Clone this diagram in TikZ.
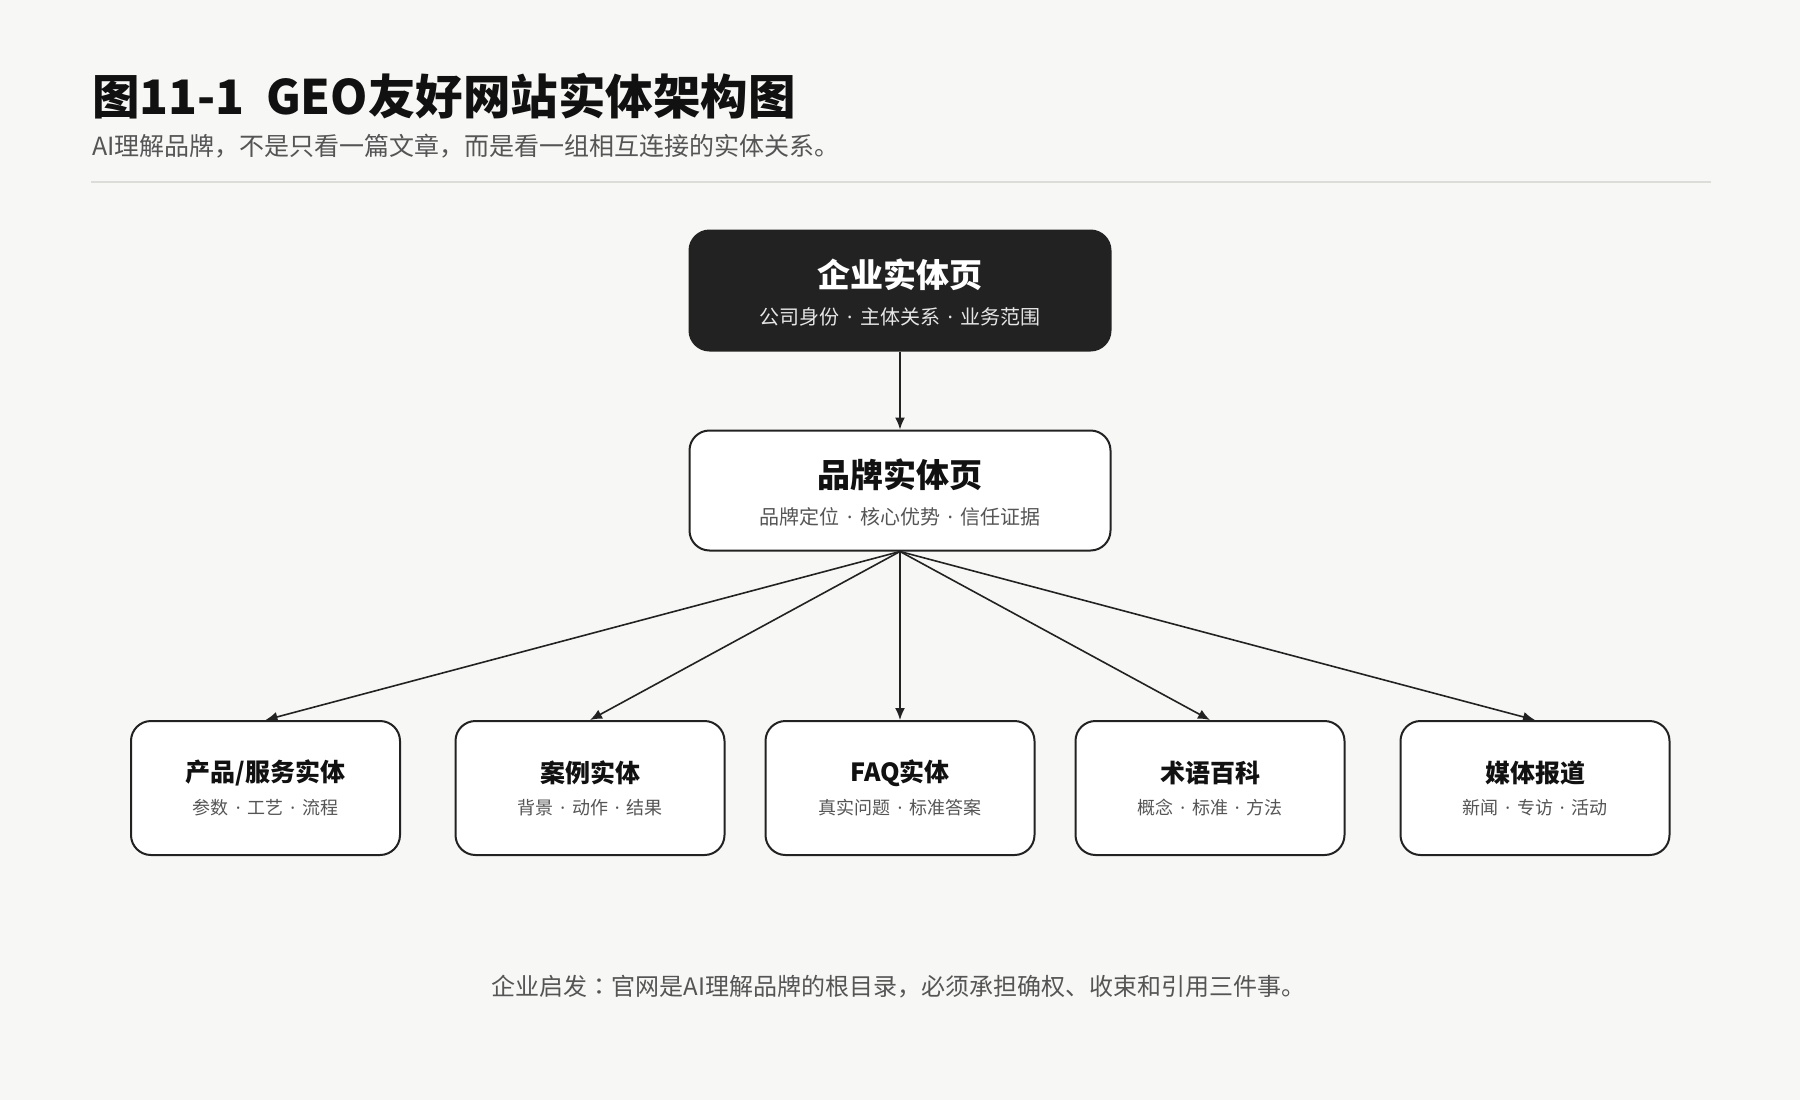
\documentclass[tikz,border=0pt]{standalone}
\usepackage{fontspec}
\setmainfont{Noto Sans CJK SC}
\newfontfamily\dotfont{Noto Sans}
\newfontfamily\jpfont{Noto Sans CJK JP}
\usepackage{tikz}
\usetikzlibrary{positioning, arrows.meta}

\definecolor{paper}{HTML}{F7F7F5}
\definecolor{inkdark}{HTML}{222222}
\definecolor{inktext}{HTML}{111111}
\definecolor{inkgray}{HTML}{555555}
\definecolor{inklight}{HTML}{E6E6E6}
\definecolor{rulegray}{HTML}{DCDCD8}

\newcommand{\sepdot}{{\dotfont\hspace{0.38em}·\hspace{0.38em}}}

\begin{document}
\begin{tikzpicture}[x=1pt, y=-1pt,
        topbox/.style = {draw=inkdark, line width=2pt, rounded corners=20pt, minimum width=421pt, minimum height=120pt, inner sep=0pt},
        leafbox/.style = {draw=inkdark, line width=2pt, fill=white, rounded corners=20pt, minimum width=269pt, minimum height=134pt, inner sep=0pt},
        tophead/.style = {font=\bfseries\fontsize{33}{40}\selectfont, inner sep=0pt},
        topsub/.style = {font=\fontsize{20}{24}\selectfont, inner sep=0pt},
        leafhead/.style = {font=\bfseries\fontsize{25}{30}\selectfont, text=inktext, inner sep=0pt},
        leafsub/.style = {font=\fontsize{18}{22}\selectfont, text=inkgray, inner sep=0pt},
        link/.style = {draw=inkdark, line width=1.6pt, -{Latex[length=12pt, width=10pt]}},
        ]
        \useasboundingbox[fill=paper] (0,0) rectangle (1800,1100);

        % heading
        \node[anchor=west, inner sep=0pt, text=inktext, font=\bfseries\fontsize{47.5}{56}\selectfont] (title) at (92,96) {图11-1\hspace{0.45em}GEO友好网站实体架构图};
        \node[anchor=west, inner sep=0pt, text=inkgray, font=\fontsize{25}{30}\selectfont] (subtitle) at (92,146) {AI理解品牌，不是只看一篇文章，而是看一组相互连接的实体关系。};
        \coordinate (rl) at (91,182);
        \coordinate (rr) at (1711,182);
        \draw[rulegray, line width=2pt] (rl) -- (rr);

        % upper levels
        \node[topbox, fill=inkdark] (corp) at (900,290.5) {};
        \node[tophead, text=white] (corpT) at (900,275) {企业实体页};
        \node[topsub, text=inklight] (corpS) at (900,317) {公司身份\sepdot 主体关系\sepdot 业务范围};

        \node[topbox, fill=white] (brand) at (900,490.5) {};
        \node[tophead, text=inktext] (brandT) at (900,475) {品牌实体页};
        \node[topsub, text=inkgray] (brandS) at (900,517) {品牌定位\sepdot 核心优势\sepdot 信任证据};

        % leaves
        \node[leafbox] (prod) at (265.5,788) {};
        \node[leafhead] at (265.5,773) {产品/服务实体};
        \node[leafsub] at (265.5,808) {参数\sepdot 工艺\sepdot 流程};

        \node[leafbox] (case) at (590,788) {};
        \node[leafhead] at (590,773) {案例实体};
        \node[leafsub] at (590,808) {背景\sepdot 动作\sepdot 结果};

        \node[leafbox] (faq) at (900,788) {};
        \node[leafhead] at (900,773) {FAQ实体};
        \node[leafsub] at (900,808) {真实问题\sepdot 标准答案};

        \node[leafbox] (term) at (1210,788) {};
        \node[leafhead] at (1210,773) {术语百科};
        \node[leafsub] at (1210,808) {概念\sepdot 标准\sepdot 方法};

        \node[leafbox] (media) at (1535,788) {};
        \node[leafhead] at (1535,773) {媒体报道};
        \node[leafsub] at (1535,808) {新闻\sepdot 专访\sepdot 活动};

        \draw[link] (corp) -- (brand);
        \foreach \leaf in {prod, case, faq, term, media}
            \draw[link] (brand.south) -- (\leaf.north);

        % footer
        \node[inner sep=0pt, text=inkgray, font=\fontsize{24}{29}\selectfont] (note) at (898.5,987) {企业启发{\jpfont ：}官网是AI理解品牌的根目录，必须承担确权、收束和引用三件事。};
    \end{tikzpicture}
\end{document}
